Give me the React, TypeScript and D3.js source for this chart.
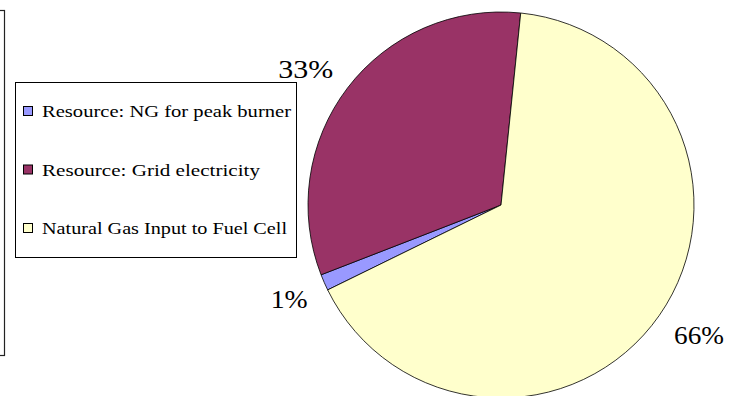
import React from "react";
import * as d3 from "d3";

const categories = [
  "Resource: NG for peak burner",
  "Resource: Grid electricity",
  "Natural Gas Input to Fuel Cell",
];
const values = [1.36, 32.52, 66.12];
const colors = ["#9999FF", "#993366", "#FFFFCC"];
const legendWidths = [249, 218, 245];
const labelWidths = [37, 55, 50];

const W = 733;
const H = 396;
const cx = 501;
const cy = 205;
const R = 193;
const startDeg = 243.9;
const labelGap = 18;
const labelH = 18;

export default function App() {
  const start = (startDeg * Math.PI) / 180;
  const pie = d3
    .pie<number>()
    .sort(null)
    .startAngle(start)
    .endAngle(start + 2 * Math.PI);
  const arcs = pie(values);
  const arc = d3.arc<d3.PieArcDatum<number>>().innerRadius(0).outerRadius(R);
  const labelArc = d3
    .arc<d3.PieArcDatum<number>>()
    .innerRadius(R + labelGap)
    .outerRadius(R + labelGap);
  const total = d3.sum(values);
  const fmt = (v: number) => `${Math.round((v / total) * 100)}%`;

  const rowY = d3.scalePoint<string>().domain(categories).range([111, 228]);

  return (
    <svg
      width={W}
      height={H}
      style={{ position: "fixed", left: 0, top: 0, background: "#fff" }}
      fontFamily="'Liberation Serif', 'Times New Roman', serif"
    >
      <rect x={-50} y={10.5} width={54.5} height={345} fill="none" stroke="#222" strokeWidth={1.2} />
      <g transform={`translate(${cx},${cy})`}>
        {arcs.map((a, i) => (
          <path key={i} d={arc(a) || ""} fill={colors[i]} stroke="#000" strokeWidth={0.8} />
        ))}
      </g>
      {arcs.map((a, i) => {
        const [lx, ly] = labelArc.centroid(a);
        const ox = Math.sign(lx) * (labelWidths[i] / 2);
        const oy = Math.sign(ly) * (labelH / 2);
        return (
          <text
            key={i}
            x={cx + lx + ox}
            y={cy + ly + oy + 1}
            textAnchor="middle"
            dominantBaseline="central"
            fontSize={26}
            textLength={labelWidths[i]}
            lengthAdjust="spacingAndGlyphs"
            fill="#000"
          >
            {fmt(a.data)}
          </text>
        );
      })}
      <rect x={15.5} y={82.5} width={281} height={175} fill="#fff" stroke="#000" strokeWidth={1} />
      {categories.map((c, i) => {
        const y = rowY(c) as number;
        return (
          <g key={c}>
            <rect x={23.5} y={y - 4.5} width={9} height={9} fill={colors[i]} stroke="#000" strokeWidth={1} />
            <text
              x={42}
              y={y + 6}
              fontSize={17}
              textLength={legendWidths[i]}
              lengthAdjust="spacingAndGlyphs"
              fill="#000"
            >
              {c}
            </text>
          </g>
        );
      })}
    </svg>
  );
}
